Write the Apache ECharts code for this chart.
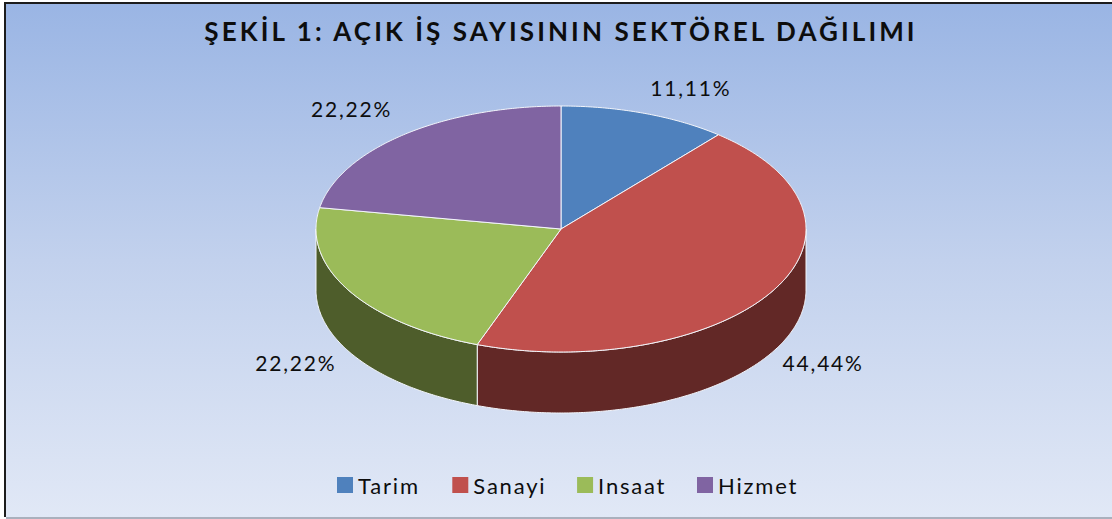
<!DOCTYPE html>
<html><head><meta charset="utf-8">
<script src="https://cdn.jsdelivr.net/npm/echarts@6/dist/echarts.min.js"></script>
<style>
html,body{margin:0;padding:0;background:#fff}
#chart{width:1112px;height:519px}
#chart svg text{letter-spacing:1.8px}
#chart svg text[style*="bold"]{letter-spacing:3.1px}
</style></head><body><div id="chart"></div>
<script>
const chartTitle = 'ŞEKİL 1: AÇIK İŞ SAYISININ SEKTÖREL DAĞILIMI';
const categories = ['Tarim', 'Sanayi', 'Insaat', 'Hizmet'];
const shareValues = [11.11, 44.44, 22.22, 22.22];
const topColors = ['#4f81bd', '#c0504d', '#9bbb59', '#8064a2'];
const sideColors = ['#2c4a70', '#622826', '#4e5d2b', '#4a3a60'];

const cx = 561, cy = 229, rx = 245, ry = 123, depth = 61;
const total = shareValues.reduce((a, b) => a + b, 0);
const px = a => cx + rx * Math.sin(a);
const py = a => cy - ry * Math.cos(a);
const fmt = v => v.toFixed(2).replace('.', ',') + '%';

function arc(a0, a1, dy) {
  const n = Math.max(2, Math.ceil((a1 - a0) / 0.01)), pts = [];
  for (let i = 0; i <= n; i++) {
    const a = a0 + (a1 - a0) * i / n;
    pts.push([px(a), py(a) + dy]);
  }
  return pts;
}
function renderSlice(idx) {
  return function (params, api) {
    const v = api.value(0);
    const before = shareValues.slice(0, idx).reduce((a, b) => a + b, 0);
    const a0 = before / total * 2 * Math.PI;
    const a1 = a0 + v / total * 2 * Math.PI;
    const children = [];
    const s0 = Math.max(a0, Math.PI / 2), s1 = Math.min(a1, 3 * Math.PI / 2);
    if (s1 > s0) {
      children.push({
        type: 'polygon',
        shape: { points: arc(s0, s1, 0).concat(arc(s0, s1, depth).reverse()) },
        style: { fill: sideColors[idx], stroke: '#f4f6fb', lineWidth: 1, lineJoin: 'round' }
      });
    }
    children.push({
      type: 'polygon',
      shape: { points: [[cx, cy]].concat(arc(a0, a1, 0)) },
      style: { fill: topColors[idx], stroke: '#f4f6fb', lineWidth: 1, lineJoin: 'round' }
    });
    const mid = (a0 + a1) / 2, front = Math.cos(mid) < 0, right = Math.sin(mid) > 0;
    children.push({
      type: 'text',
      style: {
        x: px(mid) + (right ? (front ? 50 : 46) : (front ? -53 : -52)),
        y: py(mid) + (front ? 72 : -26),
        text: fmt(v), align: 'center', verticalAlign: 'middle',
        fill: '#0d0d0d', font: '21px Lato'
      }
    });
    return { type: 'group', children };
  };
}

const chart = echarts.init(document.getElementById('chart'), null, { renderer: 'svg', width: 1112, height: 519 });
chart.setOption({
  animation: false,
  backgroundColor: '#fff',
  color: topColors,
  graphic: [{
    type: 'rect', z: -10, silent: true,
    shape: { x: 6, y: 4, width: 1106, height: 513 },
    style: {
      fill: new echarts.graphic.LinearGradient(0, 0, 0, 1, [
        { offset: 0, color: '#9ab5e4' }, { offset: 0.5, color: '#c2d1ed' }, { offset: 1, color: '#e1e8f6' }
      ])
    }
  }, {
    type: 'polyline', z: -9, silent: true,
    shape: { points: [[5, 517], [5, 3], [1112, 3]] },
    style: { fill: 'none', stroke: '#1c1c1c', lineWidth: 2 }
  }, {
    type: 'line', z: -9, silent: true,
    shape: { x1: 6, y1: 518, x2: 1112, y2: 518 },
    style: { stroke: '#aab0bd', lineWidth: 2 }
  }],
  title: {
    text: chartTitle, left: 556, textAlign: 'center', top: 13,
    textStyle: { fontFamily: 'Lato', fontSize: 26, fontWeight: 'bold', color: '#0d0d0d' }
  },
  legend: {
    data: categories, left: 332, top: 469, itemWidth: 16, itemHeight: 16, itemGap: 41.5,
    icon: 'rect', textStyle: { fontFamily: 'Lato', fontSize: 22, color: '#0d0d0d', padding: [0, 0, 5, 0] }
  },
  series: categories.map((name, i) => ({
    type: 'custom', name, coordinateSystem: 'none',
    data: [shareValues[i]], renderItem: renderSlice(i), itemStyle: { color: topColors[i] }
  }))
});
</script></body></html>
